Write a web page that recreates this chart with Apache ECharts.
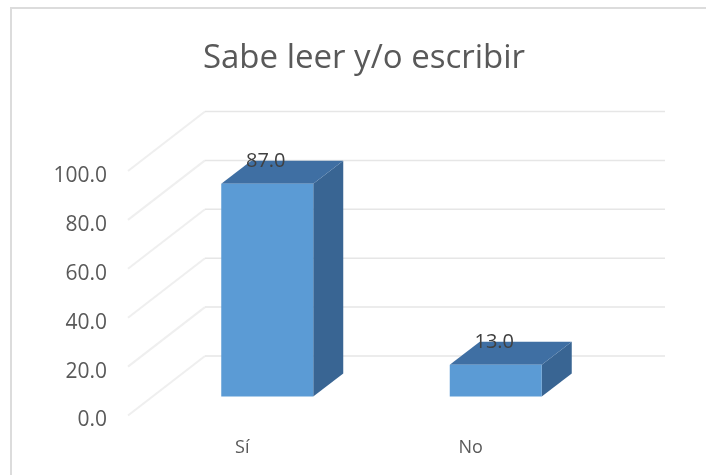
<!DOCTYPE html>
<html><head><meta charset="utf-8">
<style>html,body{margin:0;padding:0;background:#fff}#c{width:706px;height:475px}</style>
<script src="https://cdn.jsdelivr.net/npm/echarts@6/dist/echarts.min.js"></script>
</head><body><div id="c"></div>
<script>
const categories = ['Sí', 'No'];
const values = [87.0, 13.0];
const ticks = [0, 20, 40, 60, 80, 100];
const wallDepth = [77, -59.5];
const wallRight = 80;
const barFront = [25, -19];
const barBack = [55, -42];
const chart = echarts.init(document.getElementById('c'), null, {renderer: 'canvas'});
const shift = (p, d) => [p[0] + d[0], p[1] + d[1]];
chart.setOption({
  animation: false,
  backgroundColor: '#fff',
  title: {text: 'Sabe leer y/o escribir', left: 359, top: 37, textAlign: 'center',
    textStyle: {fontFamily: 'Open Sans', fontSize: 33, fontWeight: 'normal', color: '#595959'}},
  graphic: [{type: 'rect', shape: {x: 11, y: 8, width: 720, height: 500},
    style: {fill: 'none', stroke: '#dcdcdc', lineWidth: 2}, silent: true}],
  grid: {left: 128, right: 121, top: 171, bottom: 59.5},
  xAxis: {type: 'category', data: categories, axisLine: {show: false}, axisTick: {show: false},
    axisLabel: {margin: 23, fontFamily: 'Open Sans', fontSize: 18, color: '#595959'}},
  yAxis: {type: 'value', min: 0, max: 100, interval: 20, splitLine: {show: false},
    axisLine: {show: false}, axisTick: {show: false},
    axisLabel: {margin: 21, fontFamily: 'Open Sans', fontSize: 21, color: '#595959',
      verticalAlign: 'top', lineHeight: 10, formatter: v => v.toFixed(1)}},
  series: [
    {type: 'custom', data: ticks.map(t => [t]), silent: true, z: 1,
     coordinateSystem: 'cartesian2d', encode: {y: 0},
     renderItem(params, api) {
       const g = params.coordSys;
       const y = api.coord([0, api.value(0)])[1];
       const a = [g.x, y], b = shift(a, wallDepth), c = [g.x + g.width + wallRight, b[1]];
       return {type: 'group', children: [
         {type: 'polyline', shape: {points: [a, b]}, style: {fill: 'none', stroke: '#efefef', lineWidth: 2}},
         {type: 'line', shape: {x1: b[0], y1: b[1], x2: c[0], y2: c[1]}, style: {stroke: '#e6e6e6', lineWidth: 1.5}}
       ]};
     }},
    {type: 'custom', data: values.map((v, i) => [i, v]), silent: true, z: 3,
     encode: {x: 0, y: 1},
     renderItem(params, api) {
       const i = api.value(0), v = api.value(1);
       const w = api.size([1, 0])[0] * 0.4026;
       const top = api.coord([i, v]), bot = api.coord([i, 0]);
       const x0 = top[0] - w / 2, x1 = top[0] + w / 2;
       const ftl = shift([x0, top[1]], barFront), ftr = shift([x1, top[1]], barFront);
       const fbl = shift([x0, bot[1]], barFront), fbr = shift([x1, bot[1]], barFront);
       const btl = shift([x0, top[1]], barBack), btr = shift([x1, top[1]], barBack);
       const bbr = shift([x1, bot[1]], barBack);
       return {type: 'group', children: [
         {type: 'polygon', shape: {points: [ftr, btr, bbr, fbr]}, style: {fill: '#396593'}},
         {type: 'polygon', shape: {points: [ftl, btl, btr, ftr]}, style: {fill: '#3f6fa3'}},
         {type: 'polygon', shape: {points: [ftl, ftr, fbr, fbl]}, style: {fill: '#5b9bd5'}},
         {type: 'text', style: {text: v.toFixed(1), x: (btl[0] + btr[0]) / 2 - 31.5, y: btl[1] + 1,
           textAlign: 'center', textVerticalAlign: 'middle',
           font: '20px "Open Sans"', fill: '#404040'}}
       ]};
     }}
  ]
});
</script></body></html>
